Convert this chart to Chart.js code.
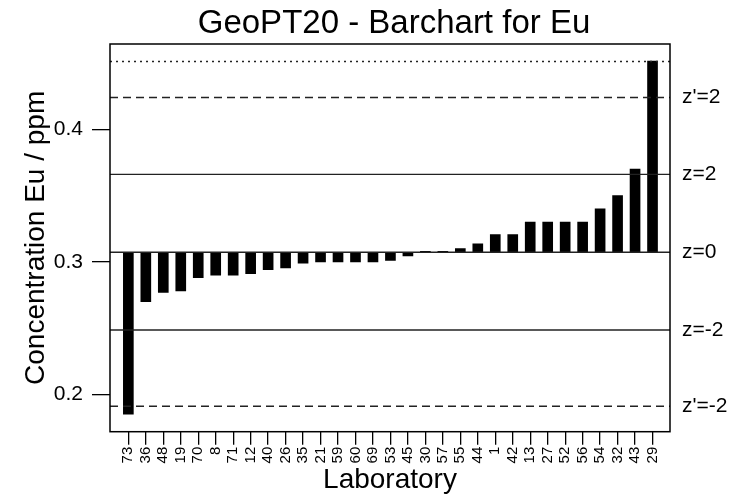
<!DOCTYPE html>
<html>
<head>
<meta charset="utf-8">
<script src="https://cdn.jsdelivr.net/npm/chart.js@4.4.0/dist/chart.umd.min.js"></script>
<style>
html, body { margin: 0; padding: 0; background: #fff; }
</style>
</head>
<body>
<canvas id="mychart" width="748" height="495"></canvas>
<script>
// laboratories, sorted by reported Eu value
const labs = ['73', '36', '48', '19', '70', '8', '71', '12', '40', '26', '35', '21', '59', '60', '69', '53',
    '45', '30', '57', '55', '44', '1', '42', '13', '27', '52', '56', '54', '32', '43', '29'];
const euValues = [0.185, 0.270, 0.277, 0.278, 0.288, 0.290, 0.290, 0.291, 0.294, 0.2955, 0.299, 0.300, 0.300, 0.300, 0.300, 0.301,
    0.3045, 0.308, 0.308, 0.310, 0.3135, 0.3205, 0.3205, 0.330, 0.330, 0.330, 0.330, 0.340, 0.350, 0.370, 0.4515];
const assigned = 0.3072;
const yTicks = [0.2, 0.3, 0.4];

// reference lines (z-score limits)
const refValues = [0.4512, 0.424, 0.366, 0.3072, 0.2485, 0.191];
const refLabels = ['', "z'=2", 'z=2', 'z=0', 'z=-2', "z'=-2"];
const refDash = [[2, 4], [8, 5], [], [], [], [8, 5]];

const FONT = '"Liberation Sans", Arial, sans-serif';

const extras = {
    id: 'extras',
    afterDatasetsDraw(chart) {
        const {ctx, chartArea, scales} = chart;
        ctx.save();
        ctx.beginPath();
        ctx.rect(chartArea.left, chartArea.top, chartArea.width, chartArea.height);
        ctx.clip();
        refValues.forEach((v, i) => {
            const y = scales.y.getPixelForValue(v);
            ctx.beginPath();
            ctx.setLineDash(refDash[i]);
            ctx.lineWidth = 1.4;
            ctx.strokeStyle = '#222';
            ctx.moveTo(chartArea.left, y);
            ctx.lineTo(chartArea.right, y);
            ctx.stroke();
        });
        ctx.restore();

        ctx.save();
        // z labels on the right
        ctx.fillStyle = '#000';
        ctx.font = '21px ' + FONT;
        ctx.textAlign = 'left';
        ctx.textBaseline = 'middle';
        refValues.forEach((v, i) => {
            if (refLabels[i]) ctx.fillText(refLabels[i], chartArea.right + 12, scales.y.getPixelForValue(v));
        });
        // box
        ctx.lineWidth = 1.5;
        ctx.strokeStyle = '#000';
        ctx.strokeRect(chartArea.left, chartArea.top, chartArea.width, chartArea.height);
        // title
        ctx.font = '33px ' + FONT;
        ctx.textAlign = 'center';
        ctx.textBaseline = 'alphabetic';
        ctx.fillText('GeoPT20 - Barchart for Eu', (chartArea.left + chartArea.right) / 2 + 4, 33);
        ctx.restore();
    }
};

const ctx = document.getElementById('mychart');

const mychart = new Chart(ctx, {
    type: 'bar',
    data: {
        datasets: [{
            label: 'Eu',
            data: labs.map((l, i) => ({x: i, y: [assigned, euValues[i]]})),
            backgroundColor: '#000',
            borderWidth: 0,
            barThickness: 10
        }]
    },
    options: {
        responsive: false,
        animation: false,
        devicePixelRatio: 1,
        layout: {
            padding: {top: 44, right: 78, bottom: 0, left: 0}
        },
        plugins: {
            legend: {display: false},
            tooltip: {enabled: false}
        },
        scales: {
            x: {
                type: 'linear',
                offset: false,
                min: -1.05,
                max: 31.0,
                afterBuildTicks: (scale) => { scale.ticks = labs.map((l, i) => ({value: i})); },
                afterFit: (scale) => { scale.height = 63.3; },
                ticks: {
                    autoSkip: false,
                    minRotation: 90,
                    maxRotation: 90,
                    padding: 2,
                    color: '#000',
                    font: {family: FONT, size: 15},
                    callback: (v) => labs[v]
                },
                grid: {offset: false, drawOnChartArea: false, tickLength: 13, color: '#000', lineWidth: 1.3},
                border: {display: false},
                title: {
                    display: true,
                    text: 'Laboratory',
                    color: '#000',
                    font: {family: FONT, size: 28, lineHeight: 1},
                    padding: {top: 0, bottom: 1}
                }
            },
            y: {
                min: 0.1718,
                max: 0.4644,
                afterBuildTicks: (scale) => { scale.ticks = yTicks.map(v => ({value: v})); },
                afterFit: (scale) => { scale.width = 110; },
                ticks: {
                    padding: 9,
                    color: '#000',
                    font: {family: FONT, size: 21},
                    callback: (v) => v.toFixed(1)
                },
                grid: {drawOnChartArea: false, tickLength: 18, color: '#000', lineWidth: 1.3},
                border: {display: false},
                title: {
                    display: true,
                    text: 'Concentration Eu / ppm',
                    color: '#000',
                    font: {family: FONT, size: 28, lineHeight: 1},
                    padding: {top: 22, bottom: 0}
                }
            }
        }
    },
    plugins: [extras]
});
</script>
</body>
</html>
